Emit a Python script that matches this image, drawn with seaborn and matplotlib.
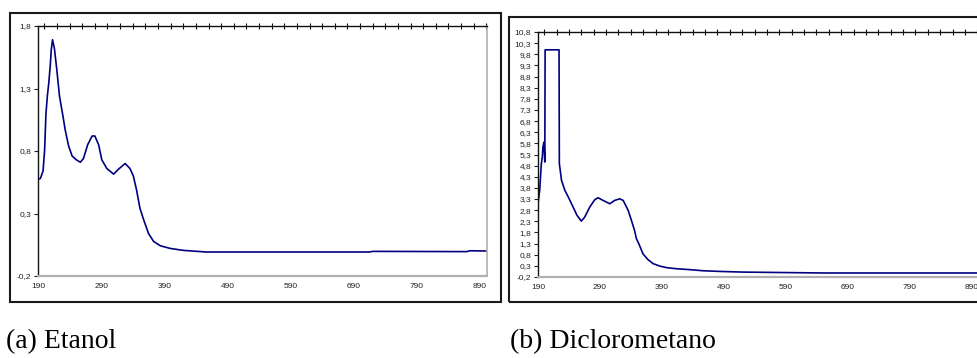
import numpy as np
import pandas as pd
import matplotlib
matplotlib.use("Agg")
import matplotlib.pyplot as plt
from matplotlib.patches import Rectangle
from matplotlib.ticker import FuncFormatter, MultipleLocator, FixedLocator
import seaborn as sns

# ---- data ----
etanol_nm = [190, 193.7, 198, 200.5, 202.6, 205, 207, 209.5, 211, 213, 216, 220, 224, 229.5,
             233, 238.5, 244, 250.6, 257, 262, 268.6, 275.7, 280, 286, 291, 299, 309.7,
             317.6, 328, 335.6, 341, 346, 351.5, 358, 365, 373, 383.6, 399, 420, 456.6,
             715, 720, 869, 874, 901]
etanol_abs = [0.575, 0.58, 0.64, 0.81, 1.10, 1.25, 1.34, 1.49, 1.61, 1.69, 1.62, 1.44, 1.24, 1.08,
              0.97, 0.84, 0.76, 0.73, 0.71, 0.74, 0.85, 0.92, 0.92, 0.85, 0.73, 0.66, 0.615,
              0.655, 0.70, 0.66, 0.60, 0.49, 0.34, 0.24, 0.14, 0.077, 0.042, 0.021, 0.005, -0.008,
              -0.008, -0.003, -0.005, 0.002, 0.0]

dcm_nm = [190, 192.7, 195.4, 197, 198, 199.7, 201, 201.5, 224, 224.5, 228, 233.4, 239,
          246.7, 253, 260, 265.5, 273.6, 281.7, 287, 295, 306, 314, 322, 327.6, 335.7,
          341, 346, 349, 353, 359.6, 367.7, 376, 386.8, 397.8, 414, 435.5, 457, 484,
          521.8, 651, 901]
dcm_abs = [3.09, 3.69, 4.89, 5.19, 5.64, 5.86, 4.96, 10.0, 10.0, 4.89, 4.14, 3.69, 3.39,
           2.94, 2.57, 2.31, 2.49, 2.94, 3.27, 3.36, 3.24, 3.09, 3.24, 3.31, 3.24, 2.79,
           2.34, 1.89, 1.52, 1.29, 0.84, 0.58, 0.40, 0.29, 0.22, 0.17, 0.13, 0.08, 0.05,
           0.02, -0.02, -0.02]

x_ticks = [190, 290, 390, 490, 590, 690, 790, 890]
captions = ["(a) Etanol", "(b) Diclorometano"]

sns.set_theme(style="white")
plt.rcParams["font.family"] = ["Liberation Sans", "DejaVu Sans"]

W, H = 978, 358
fig = plt.figure(figsize=(W / 100, H / 100), dpi=100)

def px_rect(x0, y0, x1, y1):
    return [x0 / W, 1 - y1 / H, (x1 - x0) / W, (y1 - y0) / H]

# outer chart frames
for (x0, y0, x1, y1) in [(10, 13, 501, 302), (509, 17, 990, 302)]:
    fig.patches.append(Rectangle((x0 / W, 1 - y1 / H), (x1 - x0) / W, (y1 - y0) / H,
                                 transform=fig.transFigure, fill=False,
                                 edgecolor="#1a1a1a", linewidth=1.5, zorder=0))

ax1 = fig.add_axes(px_rect(38, 26, 487, 276))
ax2 = fig.add_axes(px_rect(538, 32, 978, 277))

df1 = pd.DataFrame({"nm": etanol_nm, "abs": etanol_abs})
df2 = pd.DataFrame({"nm": dcm_nm, "abs": dcm_abs})

sns.lineplot(data=df1, x="nm", y="abs", ax=ax1, sort=False, estimator=None,
             color="#000080", linewidth=1.2)
sns.lineplot(data=df2, x="nm", y="abs", ax=ax2, sort=False, estimator=None,
             color="#000080", linewidth=1.2)

fmt = FuncFormatter(lambda v, p: f"{v:.1f}".replace(".", ","))

for ax, ylim in [(ax1, (-0.2, 1.8)), (ax2, (-0.2, 10.8))]:
    ax.set_xlim(190, 901)
    ax.set_ylim(*ylim)
    ax.set_xlabel("")
    ax.set_ylabel("")
    ax.xaxis.set_major_locator(FixedLocator(x_ticks))
    ax.yaxis.set_major_locator(FixedLocator(list(np.round(np.arange(ylim[0], ylim[1] + 0.01, 0.5), 1))))
    ax.yaxis.set_major_formatter(fmt)
    ax.tick_params(axis="x", which="major", length=0, labelsize=6, pad=5, colors="#222222")
    ax.tick_params(axis="y", which="major", length=3, width=0.8, direction="out",
                   labelsize=6, pad=2, colors="#222222", left=True)
    ax.spines["left"].set_color("#111111")
    ax.spines["left"].set_linewidth(1.0)
    ax.spines["top"].set_color("#111111")
    ax.spines["top"].set_linewidth(1.0)
    ax.spines["bottom"].set_color("#b0b0b0")
    ax.spines["bottom"].set_linewidth(1.6)
    ax.spines["right"].set_color("#b0b0b0")
    ax.spines["right"].set_linewidth(1.2)
    for s in ax.spines.values():
        s.set_visible(True)
    sec = ax.secondary_xaxis("top")
    sec.xaxis.set_major_locator(MultipleLocator(20))
    sec.tick_params(axis="x", direction="inout", length=4, width=0.8, colors="#111111",
                    labeltop=False)
    sec.spines["top"].set_visible(False)
    ax.set_facecolor("white")

fig.text(6 / W, 1 - 348 / H, captions[0], family=["Liberation Serif", "DejaVu Serif"],
         fontsize=20, va="baseline", ha="left", color="black")
fig.text(510 / W, 1 - 348 / H, captions[1], family=["Liberation Serif", "DejaVu Serif"],
         fontsize=20, va="baseline", ha="left", color="black")

fig.savefig("out.png", dpi=100, facecolor="white")
